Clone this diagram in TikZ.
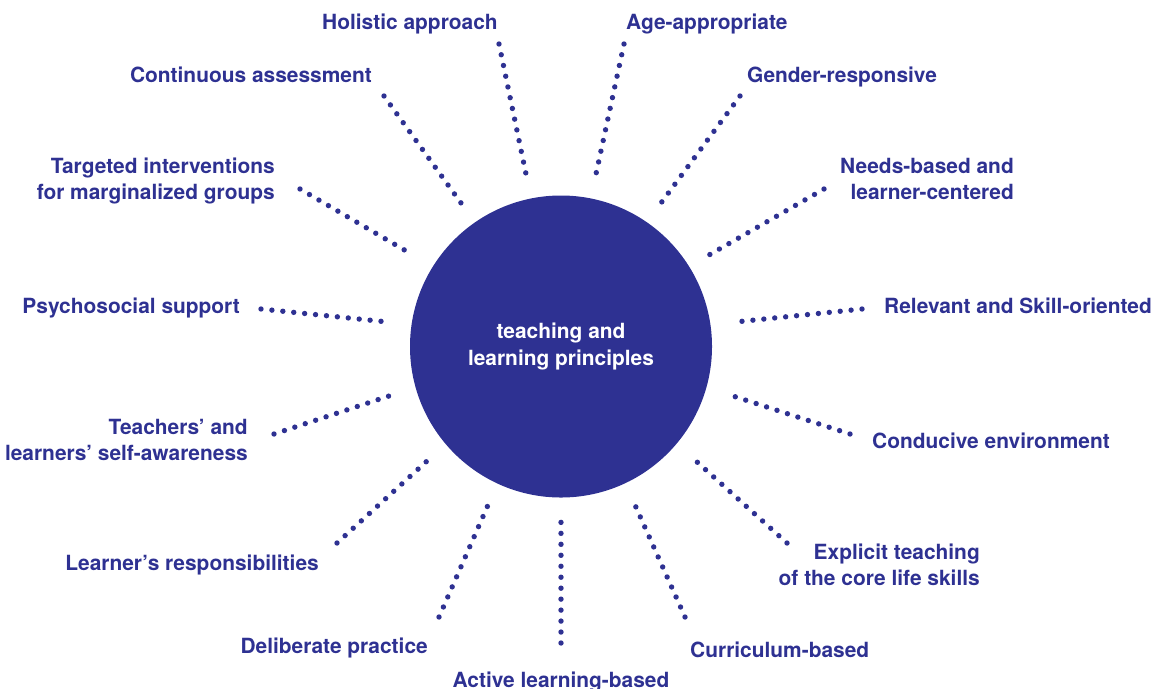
\documentclass[tikz,border=0pt]{standalone}
\usepackage{fontspec}
\setmainfont{TeX Gyre Heros}
\definecolor{navy}{HTML}{2E3192}

\begin{document}
\begin{tikzpicture}[x=0.03cm, y=-0.03cm,
	principle/.style={text=navy, font=\bfseries\fontsize{17.85pt}{22.1pt}\selectfont, inner sep=0pt},
	dotray/.style={navy, line width=4.6pt, line cap=round, dash pattern=on 0pt off 9.36pt}]
	\useasboundingbox (0,0) rectangle (1157,688);
	
	%hub
	\node[circle, fill=navy, minimum size=9.06cm, inner sep=0pt, principle, text=white, align=center] (hub) at (561,346.5) {teaching and\\[1pt]learning principles};
	
	%labels
	\node[principle, anchor=base east] (cont) at (372,82) {Continuous assessment};
	\node[principle, anchor=base west] (holi) at (322,29) {Holistic approach};
	\node[principle, anchor=base west] (age) at (626,29) {Age-appropriate};
	\node[principle, anchor=base west] (gend) at (747,82) {Gender-responsive};
	\node[principle, anchor=base east, align=right] (need) at (1014,199) {Needs-based and\\learner-centered};
	\node[principle, anchor=base west] (relv) at (884,313) {Relevant and Skill-oriented};
	\node[principle, anchor=base west] (cond) at (872,448) {Conducive environment};
	\node[principle, anchor=base east, align=right] (expl) at (980,585) {Explicit teaching\\of the core life skills};
	\node[principle, anchor=base west] (curr) at (690,657) {Curriculum-based};
	\node[principle, anchor=base] (actv) at (561,687) {Active learning-based};
	\node[principle, anchor=base east] (delb) at (428,653) {Deliberate practice};
	\node[principle, anchor=base east] (resp) at (319,570) {Learner’s responsibilities};
	\node[principle, anchor=base east, align=right] (self) at (248,460) {Teachers’ and\\learners’ self-awareness};
	\node[principle, anchor=base east] (psy) at (240,313) {Psychosocial support};
	\node[principle, anchor=base east, align=right] (targ) at (275,199) {Targeted interventions\\for marginalized groups};
	
	%ray ends
	\coordinate (cont1) at (384,96);  \coordinate (cont2) at (461,203);
	\coordinate (holi1) at (499,44);  \coordinate (holi2) at (526,174);
	\coordinate (age1) at (624,44);   \coordinate (age2) at (596,174);
	\coordinate (gend1) at (740,96);  \coordinate (gend2) at (661,203);
	\coordinate (need1) at (824,189); \coordinate (need2) at (709,255);
	\coordinate (relv1) at (862,309); \coordinate (relv2) at (735,322);
	\coordinate (cond1) at (850,434); \coordinate (cond2) at (733,396);
	\coordinate (expl1) at (787,543); \coordinate (expl2) at (696,461);
	\coordinate (curr1) at (685,617); \coordinate (curr2) at (635,505);
	\coordinate (actv1) at (561,643); \coordinate (actv2) at (561,521);
	\coordinate (delb1) at (439,617); \coordinate (delb2) at (488,505);
	\coordinate (resp1) at (337,543); \coordinate (resp2) at (427,461);
	\coordinate (self1) at (274,434); \coordinate (self2) at (389,396);
	\coordinate (psy1) at (261,309);  \coordinate (psy2) at (388,322);
	\coordinate (targ1) at (300,189); \coordinate (targ2) at (413,255);
	
	%rays
	\draw[dotray] (cont1) -- (cont2); \draw[dotray] (holi1) -- (holi2); \draw[dotray] (age1) -- (age2);
	\draw[dotray] (gend1) -- (gend2); \draw[dotray] (need1) -- (need2); \draw[dotray] (relv1) -- (relv2);
	\draw[dotray] (cond1) -- (cond2); \draw[dotray] (expl1) -- (expl2); \draw[dotray] (curr1) -- (curr2);
	\draw[dotray] (actv1) -- (actv2); \draw[dotray] (delb1) -- (delb2); \draw[dotray] (resp1) -- (resp2);
	\draw[dotray] (self1) -- (self2); \draw[dotray] (psy1) -- (psy2); \draw[dotray] (targ1) -- (targ2);
\end{tikzpicture}
\end{document}
